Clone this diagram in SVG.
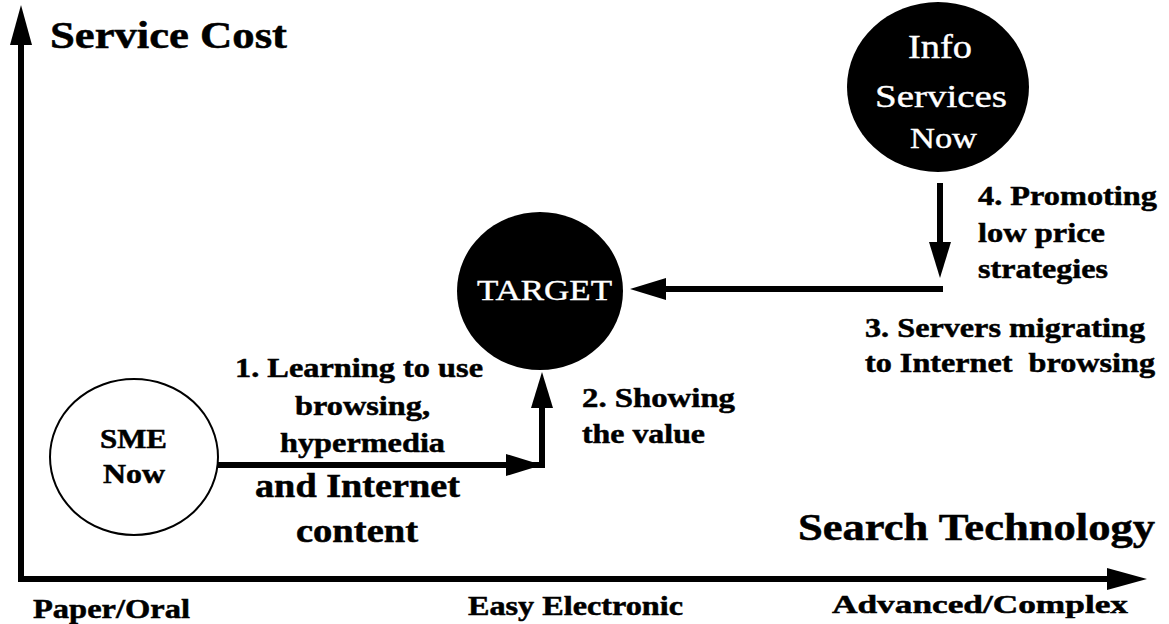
<svg xmlns="http://www.w3.org/2000/svg" width="1169" height="624" viewBox="0 0 1169 624">
<style>
  .t { font-family: "Liberation Serif", "Times New Roman", serif; font-weight: bold; fill: #000; stroke: #000; stroke-width: 0.5; }
  .w { font-family: "Liberation Serif", "Times New Roman", serif; font-weight: normal; fill: #fff; stroke: #fff; stroke-width: 0.4; }
  .ln { stroke: #000; stroke-width: 6; fill: none; }
</style>
<defs>
  <marker id="ah" markerUnits="userSpaceOnUse" viewBox="0 0 40 24" markerWidth="40" markerHeight="24" refX="8" refY="12" orient="auto">
    <path d="M0,1 L40,12 L0,23 Z" fill="#000"/>
  </marker>
  <marker id="ahs" markerUnits="userSpaceOnUse" viewBox="0 0 36 22" markerWidth="36" markerHeight="22" refX="8" refY="11" orient="auto">
    <path d="M0,0 L36,11 L0,22 Z" fill="#000"/>
  </marker>
</defs>

<g id="axes">
  <path class="ln" d="M21,579 L21,37" marker-end="url(#ah)"/>
  <path class="ln" d="M18,579 L1115,579" marker-end="url(#ah)"/>
  <text class="t" x="50" y="48" font-size="37" textLength="237" lengthAdjust="spacingAndGlyphs">Service Cost</text>
  <text class="t" x="798" y="540" font-size="38" textLength="357" lengthAdjust="spacingAndGlyphs">Search Technology</text>
  <text class="t" x="33" y="618" font-size="27" textLength="157" lengthAdjust="spacingAndGlyphs">Paper/Oral</text>
  <text class="t" x="468" y="615" font-size="27" textLength="215" lengthAdjust="spacingAndGlyphs">Easy Electronic</text>
  <text class="t" x="832" y="613" font-size="26" textLength="296" lengthAdjust="spacingAndGlyphs">Advanced/Complex</text>
</g>

<g id="sme">
  <ellipse cx="134" cy="457" rx="84" ry="78" fill="#fff" stroke="#000" stroke-width="2"/>
  <text class="t" x="100" y="448" font-size="27" textLength="67" lengthAdjust="spacingAndGlyphs">SME</text>
  <text class="t" x="103" y="483" font-size="27" textLength="62" lengthAdjust="spacingAndGlyphs">Now</text>
</g>

<g id="target">
  <ellipse cx="540" cy="291" rx="83" ry="79" fill="#000"/>
  <text class="w" x="477" y="300" font-size="30" textLength="135" lengthAdjust="spacingAndGlyphs">TARGET</text>
</g>

<g id="info-services">
  <ellipse cx="938" cy="87" rx="91" ry="85" fill="#000"/>
  <text class="w" x="908" y="58" font-size="34" textLength="64" lengthAdjust="spacingAndGlyphs">Info</text>
  <text class="w" x="875" y="107" font-size="32" textLength="132" lengthAdjust="spacingAndGlyphs">Services</text>
  <text class="w" x="910" y="148" font-size="30" textLength="67" lengthAdjust="spacingAndGlyphs">Now</text>
</g>

<g id="connectors">
  <path class="ln" d="M218,465 L542,465 L542,402" />
  <path class="ln" d="M542,465 L542,400" marker-end="url(#ahs)"/>
  <path class="ln" d="M218,465 L514,465" marker-end="url(#ahs)"/>
  <path class="ln" d="M943,289 L658,289" marker-end="url(#ahs)"/>
  <path class="ln" d="M940,183 L940,250" marker-end="url(#ahs)"/>
</g>

<g id="labels">
  <text class="t" x="235" y="377" font-size="28" textLength="248" lengthAdjust="spacingAndGlyphs">1. Learning to use</text>
  <text class="t" x="295" y="415" font-size="28" textLength="135" lengthAdjust="spacingAndGlyphs">browsing,</text>
  <text class="t" x="280" y="452" font-size="28" textLength="165" lengthAdjust="spacingAndGlyphs">hypermedia</text>
  <text class="t" x="255" y="497" font-size="33" textLength="205" lengthAdjust="spacingAndGlyphs">and Internet</text>
  <text class="t" x="296" y="542" font-size="33" textLength="122" lengthAdjust="spacingAndGlyphs">content</text>
  <text class="t" x="582" y="407" font-size="28" textLength="153" lengthAdjust="spacingAndGlyphs">2. Showing</text>
  <text class="t" x="582" y="443" font-size="28" textLength="123" lengthAdjust="spacingAndGlyphs">the value</text>
  <text class="t" x="865" y="337" font-size="28" textLength="280" lengthAdjust="spacingAndGlyphs">3. Servers migrating</text>
  <text class="t" x="865" y="372" font-size="28" textLength="290" lengthAdjust="spacingAndGlyphs" xml:space="preserve">to Internet  browsing</text>
  <text class="t" x="978" y="205" font-size="28" textLength="179" lengthAdjust="spacingAndGlyphs">4. Promoting</text>
  <text class="t" x="978" y="242" font-size="28" textLength="127" lengthAdjust="spacingAndGlyphs">low price</text>
  <text class="t" x="978" y="278" font-size="28" textLength="130" lengthAdjust="spacingAndGlyphs">strategies</text>
</g>
</svg>
